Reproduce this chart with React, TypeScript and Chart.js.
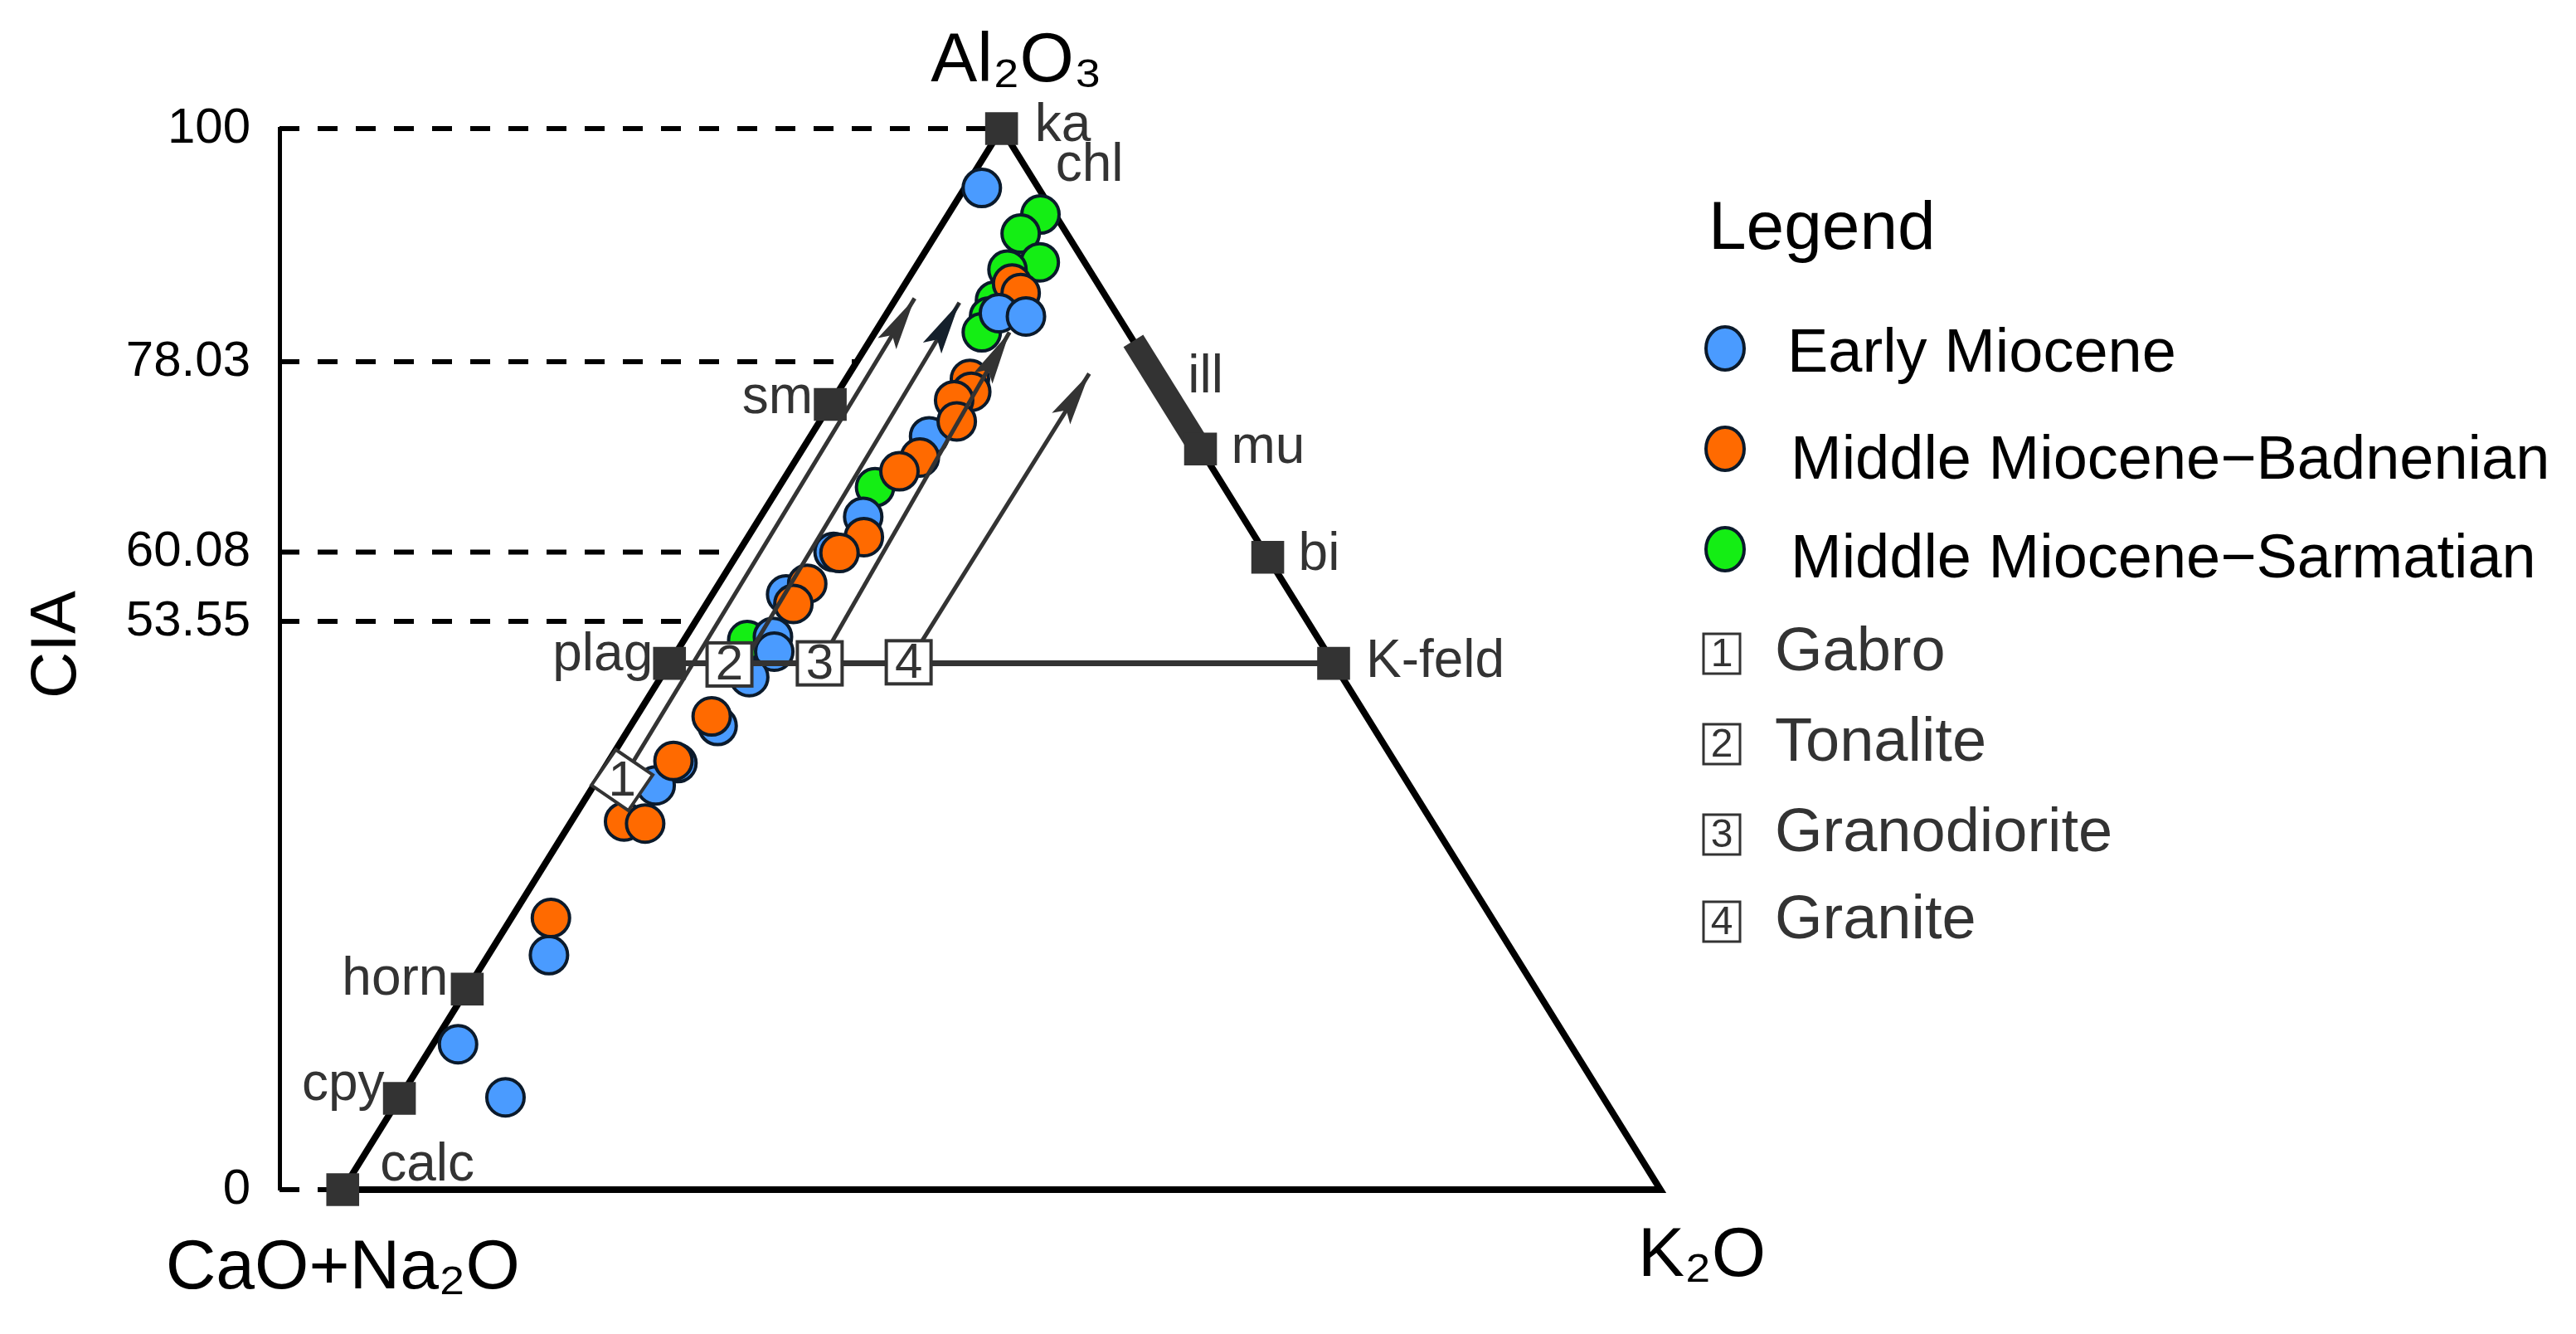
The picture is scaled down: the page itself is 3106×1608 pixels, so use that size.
import React, { useEffect, useRef } from 'react';
import { Chart, registerables } from 'chart.js';

Chart.register(...registerables);

const FONT = '"Liberation Sans", Arial, Helvetica, sans-serif';

// ---- Data (ternary A-CN-K, A = Al2O3 / CIA, K = K2O, CN = 100 - A - K) ----
const earlyMioceneA = [94.4, 82.6, 82.3, 71.0, 63.4, 60.1, 56.1, 52.1, 50.7, 48.3, 43.7, 40.2, 38.1, 22.1, 13.7, 8.7];
const earlyMioceneK = [1.3, 8.5, 10.7, 9.0, 7.8, 7.2, 5.6, 6.6, 7.4, 6.7, 6.6, 5.3, 4.7, 4.6, 1.9, 8.0];

const badnenianA = [85.4, 84.5, 76.4, 75.2, 74.4, 72.4, 69.0, 67.7, 61.5, 60.0, 57.1, 55.2, 44.6, 40.4, 34.7, 34.5, 25.6];
const badnenianK = [8.1, 9.2, 9.4, 10.1, 9.2, 10.4, 9.3, 8.4, 8.8, 7.7, 6.7, 6.6, 5.7, 4.9, 4.0, 5.7, 3.0];

const sarmatianA = [91.9, 90.1, 87.4, 86.7, 83.8, 82.3, 80.8, 66.2, 51.8];
const sarmatianK = [7.0, 6.4, 9.2, 7.1, 7.6, 7.9, 8.1, 7.3, 4.8];

const mineralNames = ['ka', 'sm', 'plag', 'horn', 'cpy', 'calc', 'mu', 'bi', 'K-feld'];
const mineralA = [100, 74.0, 49.6, 18.9, 8.6, 0, 69.8, 59.6, 49.6];
const mineralK = [0, 0, 0, 0, 0, 0, 30.2, 40.4, 50.4];

const illiteA = [80, 70];
const illiteK = [20, 30];

const rockNames = ['Gabro', 'Tonalite', 'Granodiorite', 'Granite'];
const rockA = [38.6, 49.5, 49.6, 49.7];
const rockK = [1.9, 4.6, 11.4, 18.1];
const arrowTailA = [38.6, 49.5, 49.6, 49.7];
const arrowTailK = [1.9, 5.6, 11.4, 18.1];
const arrowTipA = [84.0, 83.6, 80.8, 76.9];
const arrowTipK = [1.4, 5.0, 10.2, 18.2];

const ciaTicks = [0, 53.55, 60.08, 78.03, 100];

const seriesNames = ['Early Miocene', 'Middle Miocene\u2212Badnenian', 'Middle Miocene\u2212Sarmatian'];
const seriesColors = ['#4a9bff', '#ff6a00', '#14ee14'];

// ---- helpers ----
const X_MIN = -4.8;
const toXY = (a: number, k: number) => ({ x: k + a / 2, y: a });
const zipXY = (A: number[], K: number[]) => A.map((a, i) => toXY(a, K[i]));

const labelPlacement: Record<string, { align: CanvasTextAlign; dx: number; dy: number }> = {
  ka: { align: 'left', dx: 40, dy: 15 },
  sm: { align: 'right', dx: -21, dy: 10 },
  plag: { align: 'right', dx: -20, dy: 8 },
  horn: { align: 'right', dx: -23, dy: 7 },
  cpy: { align: 'right', dx: -18, dy: 2 },
  calc: { align: 'left', dx: 45, dy: -11 },
  mu: { align: 'left', dx: 37, dy: 17 },
  bi: { align: 'left', dx: 37, dy: 15 },
  'K-feld': { align: 'left', dx: 39, dy: 16 },
};

function drawNumBox(ctx: CanvasRenderingContext2D, cx: number, cy: number, w: number, h: number,
  num: string, rot: number, fontSize: number, lw: number) {
  ctx.save();
  ctx.translate(cx, cy);
  ctx.save();
  ctx.rotate(rot);
  ctx.fillStyle = '#ffffff';
  ctx.fillRect(-w / 2, -h / 2, w, h);
  ctx.strokeStyle = '#333333';
  ctx.lineWidth = lw;
  ctx.strokeRect(-w / 2, -h / 2, w, h);
  ctx.restore();
  ctx.fillStyle = '#333333';
  ctx.font = `${fontSize}px ${FONT}`;
  ctx.textAlign = 'center';
  ctx.textBaseline = 'middle';
  ctx.fillText(num, 0, 2);
  ctx.restore();
}

const overlayPlugin = {
  id: 'ternaryOverlay',
  afterDatasetsDraw(chart: any) {
    const ctx: CanvasRenderingContext2D = chart.ctx;
    const xs = chart.scales.x;
    const ys = chart.scales.y;
    const px = (a: number, k: number) => {
      const p = toXY(a, k);
      return [xs.getPixelForValue(p.x), ys.getPixelForValue(p.y)];
    };
    ctx.save();
    // arrow heads
    for (let i = 0; i < arrowTipA.length; i++) {
      const [tx, ty] = px(arrowTipA[i], arrowTipK[i]);
      const [sx, sy] = px(arrowTailA[i], arrowTailK[i]);
      const len = Math.hypot(tx - sx, ty - sy);
      const ux = (tx - sx) / len, uy = (ty - sy) / len;
      const nx = -uy, ny = ux;
      const L = 64, W = 13, N = 12;
      ctx.beginPath();
      ctx.moveTo(tx, ty);
      ctx.lineTo(tx - L * ux + W * nx, ty - L * uy + W * ny);
      ctx.lineTo(tx - (L - N) * ux, ty - (L - N) * uy);
      ctx.lineTo(tx - L * ux - W * nx, ty - L * uy - W * ny);
      ctx.closePath();
      ctx.fillStyle = i === 1 ? '#15202c' : '#333333';
      ctx.fill();
    }
    // rock number boxes
    for (let i = 0; i < rockA.length; i++) {
      const [cx, cy] = px(rockA[i], rockK[i]);
      drawNumBox(ctx, cx, cy, 54, 52, String(i + 1), i === 0 ? 0.6 : 0, 60, 4);
    }
    // mineral labels
    ctx.fillStyle = '#333333';
    ctx.font = `64px ${FONT}`;
    ctx.textBaseline = 'alphabetic';
    mineralNames.forEach((n, i) => {
      const pl = labelPlacement[n];
      const [cx, cy] = px(mineralA[i], mineralK[i]);
      ctx.textAlign = pl.align;
      ctx.fillText(n, cx + pl.dx, cy + pl.dy);
    });
    // chl label (next to ka)
    {
      const [cx, cy] = px(mineralA[0], mineralK[0]);
      ctx.textAlign = 'left';
      ctx.fillText('chl', cx + 65, cy + 63);
    }
    // ill label
    {
      const [cx, cy] = px((illiteA[0] + illiteA[1]) / 2, (illiteK[0] + illiteK[1]) / 2);
      ctx.textAlign = 'left';
      ctx.fillText('ill', cx + 26, cy - 2);
    }
    ctx.restore();
  },
  afterDraw(chart: any) {
    const ctx: CanvasRenderingContext2D = chart.ctx;
    const xs = chart.scales.x;
    const ys = chart.scales.y;
    ctx.save();
    // vertex labels
    ctx.fillStyle = '#000000';
    ctx.font = `84px ${FONT}`;
    ctx.textAlign = 'center';
    ctx.textBaseline = 'middle';
    ctx.fillText('Al\u2082O\u2083', xs.getPixelForValue(50) + 18, ys.getPixelForValue(100) - 80);
    ctx.fillText('CaO+Na\u2082O', xs.getPixelForValue(0), ys.getPixelForValue(0) + 96);
    ctx.fillText('K\u2082O', xs.getPixelForValue(100) + 50, ys.getPixelForValue(0) + 81);
    // CIA axis title
    ctx.save();
    ctx.translate(69, 777);
    ctx.rotate(-Math.PI / 2);
    ctx.font = `78px ${FONT}`;
    ctx.fillText('CIA', 0, 0);
    ctx.restore();

    // legend
    ctx.textAlign = 'left';
    ctx.font = `82px ${FONT}`;
    ctx.fillStyle = '#000000';
    ctx.fillText('Legend', 2060, 277);
    const circleY = [420, 541, 662];
    const textY = [428, 557, 676];
    seriesNames.forEach((n, i) => {
      ctx.beginPath();
      ctx.ellipse(2080, circleY[i], 23, 26, 0, 0, Math.PI * 2);
      ctx.fillStyle = seriesColors[i];
      ctx.fill();
      ctx.lineWidth = 4;
      ctx.strokeStyle = '#0b1a2b';
      ctx.stroke();
      ctx.fillStyle = '#000000';
      ctx.font = `74px ${FONT}`;
      ctx.fillText(n, i === 0 ? 2155 : 2159, textY[i]);
    });
    const rockY = [788, 897, 1006, 1111];
    rockNames.forEach((n, i) => {
      drawNumBox(ctx, 2076, rockY[i], 44, 48, String(i + 1), 0, 48, 3);
      ctx.fillStyle = '#333333';
      ctx.font = `74px ${FONT}`;
      ctx.textAlign = 'left';
      ctx.textBaseline = 'middle';
      ctx.fillText(n, 2140, rockY[i]);
    });
    ctx.restore();
  },
};

export default function App() {
  const canvasRef = useRef<HTMLCanvasElement | null>(null);

  useEffect(() => {
    const canvas = canvasRef.current;
    if (!canvas) return;

    const line = (data: { x: number; y: number }[], color: string, width: number, extra: any = {}) => ({
      type: 'scatter',
      data,
      showLine: true,
      borderColor: color,
      borderWidth: width,
      pointRadius: 0,
      fill: false,
      clip: false,
      ...extra,
    });

    const blueAll = zipXY(earlyMioceneA, earlyMioceneK);
    const blueUpper = blueAll.filter((p) => p.y > 80);
    const blueLower = blueAll.filter((p) => p.y <= 80);

    const pointSet = (data: { x: number; y: number }[], color: string, order: number) => ({
      type: 'scatter',
      data,
      showLine: false,
      pointRadius: 22.5,
      pointHoverRadius: 22.5,
      backgroundColor: color,
      borderColor: '#0b1a2b',
      borderWidth: 4,
      clip: false,
      order,
    });

    const datasets: any[] = [];
    // dashed CIA guides
    ciaTicks.forEach((v) => {
      datasets.push(line([{ x: X_MIN, y: v }, toXY(v, 0)], '#000000', 6, { borderDash: [24, 22], order: 100 }));
    });
    // triangle outline
    datasets.push(line([toXY(100, 0), toXY(0, 0), toXY(0, 100), toXY(100, 0)], '#000000', 8,
      { order: 90, borderJoinStyle: 'miter' }));
    // sample points
    datasets.push(pointSet(zipXY(sarmatianA, sarmatianK), seriesColors[2], 50));
    datasets.push(pointSet(blueLower, seriesColors[0], 49));
    datasets.push(pointSet(zipXY(badnenianA, badnenianK), seriesColors[1], 48));
    datasets.push(pointSet(blueUpper, seriesColors[0], 47));
    // plag - K-feld tie line
    datasets.push(line([toXY(mineralA[2], mineralK[2]), toXY(mineralA[8], mineralK[8])], '#333333', 7, { order: 20 }));
    // arrows shafts
    arrowTipA.forEach((a, i) => {
      datasets.push(line([toXY(arrowTailA[i], arrowTailK[i]), toXY(a, arrowTipK[i])], '#333333', 5, { order: 19 }));
    });
    // illite bar
    datasets.push(line(zipXY(illiteA, illiteK), '#333333', 28, { order: 18, borderCapStyle: 'butt' }));
    // mineral squares
    datasets.push({
      type: 'scatter',
      data: zipXY(mineralA, mineralK),
      pointStyle: 'rect',
      pointRadius: 28,
      pointHoverRadius: 28,
      backgroundColor: '#333333',
      borderWidth: 0,
      clip: false,
      order: 10,
    });

    const chart = new Chart(canvas, {
      type: 'scatter',
      data: { datasets },
      options: {
        responsive: false,
        maintainAspectRatio: false,
        devicePixelRatio: 1,
        animation: false,
        events: [],
        layout: { padding: { top: 155, bottom: 174, left: 137, right: 1104 } },
        plugins: { legend: { display: false }, tooltip: { enabled: false } },
        scales: {
          x: { type: 'linear', min: X_MIN, max: 100, display: false },
          y: {
            type: 'linear',
            min: 0,
            max: 100,
            position: 'left',
            afterBuildTicks: (s: any) => {
              s.ticks = ciaTicks.map((v) => ({ value: v }));
            },
            afterFit: (s: any) => {
              s.width = 200;
            },
            grid: { display: false, drawTicks: false },
            border: { display: true, color: '#000000', width: 5 },
            ticks: {
              color: '#000000',
              font: { family: FONT, size: 60 },
              padding: 35,
              callback: (v: any) => String(v),
            },
          },
        },
      } as any,
      plugins: [overlayPlugin],
    } as any);

    return () => chart.destroy();
  }, []);

  return (
    <div style={{ position: 'fixed', left: 0, top: 0, width: 3106, height: 1608, background: '#ffffff' }}>
      <canvas ref={canvasRef} width={3106} height={1608} style={{ display: 'block', width: 3106, height: 1608 }} />
    </div>
  );
}
